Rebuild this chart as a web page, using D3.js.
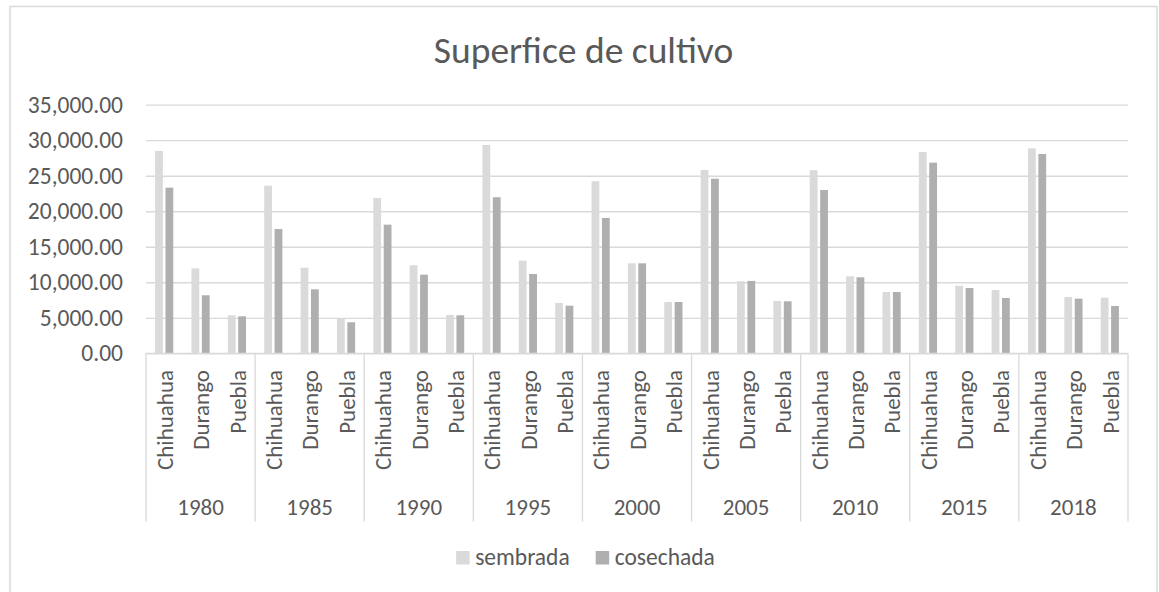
<!DOCTYPE html>
<html>
<head>
<meta charset="utf-8">
<script src="https://cdn.jsdelivr.net/npm/d3@7"></script>
<style>
  html, body { margin: 0; padding: 0; background: #fff; }
  svg { display: block; }
  text { font-family: Carlito, Calibri, Lato, "Open Sans", sans-serif; fill: #595959; }
</style>
</head>
<body>
<svg id="chart" width="1159" height="592"></svg>
<script>
const title = "Superfice de cultivo";
const years = ["1980", "1985", "1990", "1995", "2000", "2005", "2010", "2015", "2018"];
const states = ["Chihuahua", "Durango", "Puebla"];
const seriesNames = ["sembrada", "cosechada"];
const seriesColors = ["#dadada", "#afafaf"];
// values ordered per year: Chihuahua, Durango, Puebla
const sembrada = [
  28480, 11950, 5350,
  23600, 12050, 4830,
  21870, 12400, 5400,
  29330, 13040, 7080,
  24220, 12670, 7220,
  25810, 10140, 7360,
  25770, 10840, 8630,
  28340, 9520, 8910,
  28860, 7930, 7830
];
const cosechada = [
  23320, 8170, 5210,
  17500, 9010, 4370,
  18110, 11070, 5350,
  21970, 11170, 6700,
  19050, 12670, 7220,
  24580, 10190, 7320,
  22990, 10700, 8630,
  26840, 9190, 7790,
  28060, 7690, 6660
];
const yTicks = [0, 5000, 10000, 15000, 20000, 25000, 30000, 35000];

(function () {
const svg = d3.select("#chart");
const pLeft = 146, pRight = 1128, pTop = 104.7, pBottom = 353.3;

// border
svg.append("rect").attr("x", 10).attr("y", 6.5).attr("width", 1147).attr("height", 620)
  .attr("fill", "#fff").attr("stroke", "#d9d9d9").attr("stroke-width", 1.5);

// title
svg.append("text").attr("x", 583.5).attr("y", 62.5).attr("text-anchor", "middle")
  .style("font-size", "37.5px").text(title);

const y = d3.scaleLinear().domain([0, 35000]).range([pBottom, pTop]);
const x0 = d3.scaleBand().domain(years).range([pLeft, pRight]).padding(0);
const x1 = d3.scaleBand().domain(states).range([0, x0.bandwidth()]).padding(0);
const x2 = d3.scaleBand().domain(seriesNames)
  .range([x1.bandwidth() * 0.25, x1.bandwidth() * 0.75]).paddingInner(0.25).paddingOuter(0);

// gridlines + y labels via axis
const yAxis = d3.axisLeft(y).tickValues(yTicks).tickFormat(d3.format(",.2f"))
  .tickSize(-(pRight - pLeft)).tickPadding(23);
const gy = svg.append("g").attr("transform", `translate(${pLeft},0)`).call(yAxis);
gy.select(".domain").remove();
gy.selectAll(".tick line").attr("stroke", "#d9d9d9").attr("stroke-width", 1.3);
gy.selectAll(".tick text").style("font-size", "23.5px").attr("fill", "#595959")
  .style("font-family", "Carlito, Calibri, Lato, sans-serif");

// data rows
const rows = [];
years.forEach((yr, i) => states.forEach((st, j) => {
  rows.push({ year: yr, state: st, sembrada: sembrada[i * 3 + j], cosechada: cosechada[i * 3 + j] });
}));

const bars = svg.append("g");
seriesNames.forEach((s, k) => {
  bars.selectAll(null).data(rows).enter().append("rect")
    .attr("x", d => x0(d.year) + x1(d.state) + x2(s))
    .attr("width", x2.bandwidth())
    .attr("y", d => y(d[s]))
    .attr("height", d => y(0) - y(d[s]))
    .attr("fill", seriesColors[k]);
});

// x axis baseline
svg.append("line").attr("x1", pLeft).attr("x2", pRight).attr("y1", pBottom).attr("y2", pBottom)
  .attr("stroke", "#d9d9d9").attr("stroke-width", 1.3);
// group separators
const seps = years.map(d => x0(d)).concat([pRight]);
svg.append("g").selectAll("line").data(seps).enter().append("line")
  .attr("x1", d => d).attr("x2", d => d).attr("y1", pBottom).attr("y2", 521.5)
  .attr("stroke", "#d9d9d9").attr("stroke-width", 1.3);

// category labels
svg.append("g").selectAll("text").data(rows).enter().append("text")
  .attr("transform", d => `translate(${x0(d.year) + x1(d.state) + x1.bandwidth() / 2 + 0.5},370) rotate(-90)`)
  .attr("text-anchor", "end").attr("dy", "0.36em")
  .style("font-size", "23px").text(d => d.state);

// year labels
svg.append("g").selectAll("text").data(years).enter().append("text")
  .attr("x", d => x0(d) + x0.bandwidth() / 2).attr("y", 515)
  .attr("text-anchor", "middle").style("font-size", "23px").text(d => d);

// legend
const lg = svg.append("g");
const items = lg.selectAll("g").data(seriesNames).enter().append("g");
items.append("rect").attr("width", 13.5).attr("height", 13.5).attr("y", 551)
  .attr("fill", (d, i) => seriesColors[i]);
items.append("text").attr("x", 19).attr("y", 564.5).style("font-size", "23.5px").text(d => d);
const widths = [];
items.each(function () { widths.push(this.querySelector("text").getComputedTextLength() + 19); });
const total = widths[0] + 26 + widths[1];
const start = 585.5 - total / 2;
items.attr("transform", (d, i) => `translate(${i === 0 ? start : start + widths[0] + 26},0)`);
})();
</script>
</body>
</html>
